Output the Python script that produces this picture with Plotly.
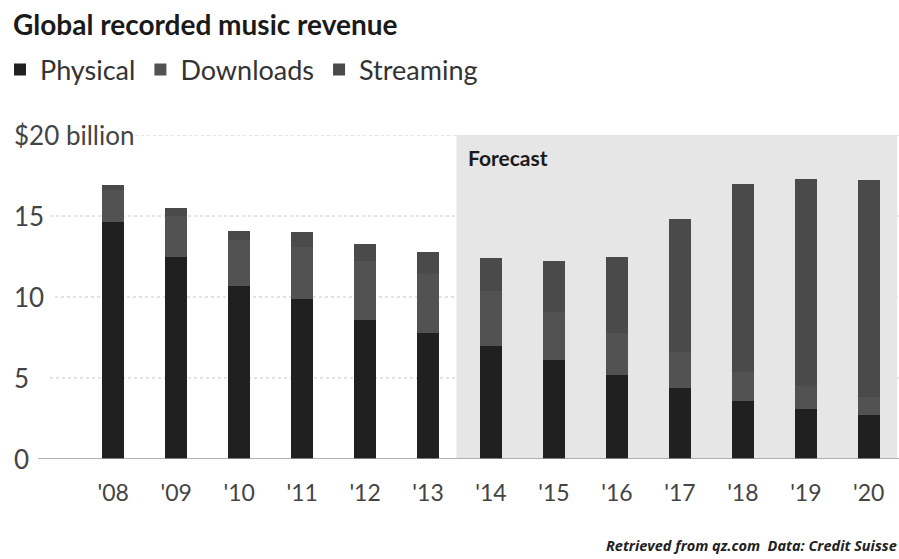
import plotly.graph_objects as go

years = ["'08", "'09", "'10", "'11", "'12", "'13", "'14", "'15", "'16", "'17", "'18", "'19", "'20"]
physical = [14.6, 12.5, 10.7, 9.9, 8.6, 7.8, 7.0, 6.1, 5.2, 4.4, 3.6, 3.1, 2.7]
downloads = [2.0, 2.5, 2.8, 3.2, 3.6, 3.6, 3.4, 3.0, 2.6, 2.2, 1.8, 1.4, 1.1]
streaming = [0.3, 0.5, 0.6, 0.9, 1.1, 1.4, 2.0, 3.1, 4.7, 8.2, 11.6, 12.8, 13.4]
y_ticks = [0, 5, 10, 15, 20]
y_ticktext = ["0", "5", "10", "15", "$20 billion"]
forecast_start = 6  # index of '14

W, H = 899, 559
FONT = "Lato"

fig = go.Figure()
fig.add_trace(go.Bar(name="Physical", x=years, y=physical, marker_color="#202020", marker_line_width=0))
fig.add_trace(go.Bar(name="Downloads", x=years, y=downloads, marker_color="#525252", marker_line_width=0))
fig.add_trace(go.Bar(name="Streaming", x=years, y=streaming, marker_color="#4a4a4a", marker_line_width=0))

shapes = [
    dict(type="rect", xref="x", yref="y", x0=forecast_start - 0.55, x1=12.45, y0=0, y1=20,
         fillcolor="#e6e6e6", line_width=0, layer="below"),
]
grid_start = {5: (50 - 10) / 889, 10: (55 - 10) / 889, 15: (50 - 10) / 889, 20: (135 - 10) / 889}
for v in y_ticks[1:]:
    shapes.append(dict(type="line", xref="paper", yref="y", x0=grid_start[v], x1=1, y0=v, y1=v,
                       line=dict(color="#c8c8c8", width=1, dash="dot"), layer="below"))
shapes.append(dict(type="line", xref="paper", yref="y", x0=(38 - 10) / 889, x1=1, y0=0, y1=0,
                   line=dict(color="#9a9a9a", width=1.5), layer="above"))

# y-axis labels placed on the y scale
y_labels = [
    dict(text=t, xref="paper", yref="y", x=0, y=v, xanchor="left", yanchor="middle", xshift=2,
         showarrow=False, font=dict(family=FONT, size=26, color="#444"))
    for v, t in zip(y_ticks, y_ticktext)
]

fig.update_layout(
    width=W, height=H,
    barmode="stack", bargap=0.65,
    plot_bgcolor="white", paper_bgcolor="white",
    margin=dict(l=10, r=0, t=135, b=100),
    font=dict(family=FONT, color="#444", size=24),
    title=dict(text="<b>Global recorded music revenue</b>", x=13 / W, xref="container", xanchor="left",
               y=1 - 25 / H, yref="container", yanchor="middle",
               font=dict(family=FONT, size=28, color="#1a1a1a")),
    showlegend=True,
    legend=dict(orientation="h", xref="container", yref="container", x=0, xanchor="left",
                y=1 - 70 / H, yanchor="middle", font=dict(family=FONT, size=27, color="#333"),
                traceorder="normal", itemclick=False, bgcolor="rgba(0,0,0,0)", tracegroupgap=0),
    xaxis=dict(type="category", range=[-1.64, 12.48], showgrid=False, zeroline=False, showline=False,
               ticks="outside", ticklen=13, tickcolor="rgba(0,0,0,0)",
               tickfont=dict(family=FONT, size=23, color="#444")),
    yaxis=dict(range=[0, 20], tickvals=y_ticks, showticklabels=False, showgrid=False, zeroline=False,
               showline=False, ticks=""),
    shapes=shapes,
    annotations=y_labels + [
        dict(text="<b>Forecast</b>", xref="x", yref="y", x=forecast_start - 0.55, y=20, xanchor="left",
             yanchor="top", xshift=10, yshift=-8, showarrow=False,
             font=dict(family=FONT, size=21, color="#1a1a1a")),
        dict(text="<i><b>Retrieved from qz.com  Data: Credit Suisse</b></i>", xref="paper", yref="paper",
             x=1, y=0, xanchor="right", yanchor="middle", yshift=-(545 - 459), showarrow=False,
             font=dict(family="Open Sans", size=14.5, color="#222")),
    ],
)

fig.write_html("out.html")
